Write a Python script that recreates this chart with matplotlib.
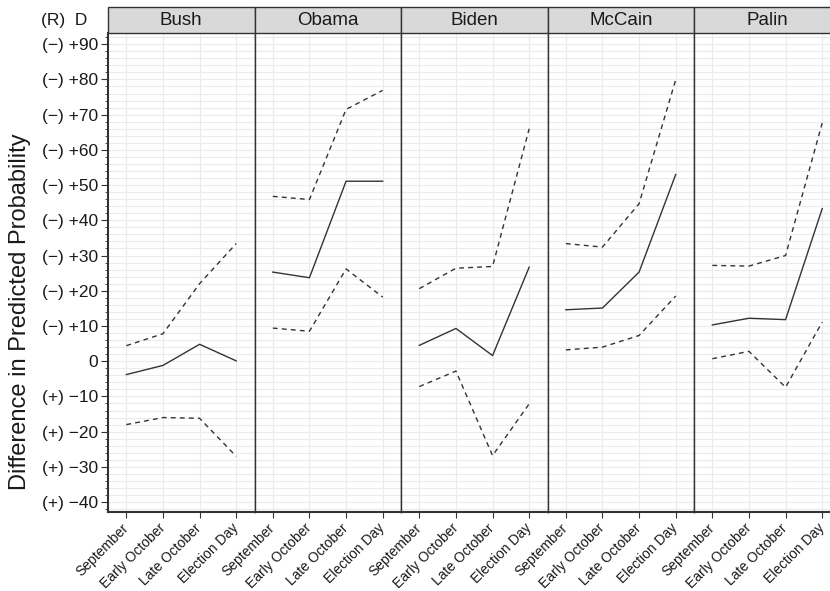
import numpy as np
import matplotlib.pyplot as plt
from matplotlib.patches import Rectangle

plt.rcParams['font.family'] = ['Liberation Sans', 'DejaVu Sans']

periods = ['September', 'Early October', 'Late October', 'Election Day']
figures = ['Bush', 'Obama', 'Biden', 'McCain', 'Palin']

# point estimates and 95% bounds, one row per figure
estimate = [
    [-3.8, -1.2, 4.8, 0.1],
    [25.3, 23.7, 51.1, 51.1],
    [4.5, 9.3, 1.6, 26.7],
    [14.6, 15.1, 25.3, 53.0],
    [10.3, 12.2, 11.8, 43.3],
]
upper = [
    [4.4, 7.8, 22.0, 33.4],
    [46.8, 45.9, 71.5, 76.9],
    [20.6, 26.4, 26.9, 66.0],
    [33.4, 32.4, 44.7, 79.9],
    [27.2, 27.0, 30.0, 67.6],
]
lower = [
    [-18.0, -16.0, -16.2, -27.0],
    [9.4, 8.5, 26.2, 18.2],
    [-7.2, -2.8, -26.8, -12.1],
    [3.2, 4.0, 7.3, 18.5],
    [0.7, 2.8, -7.4, 11.1],
]

y_major = np.arange(-40, 91, 10)


def fmt(v):
    if v > 0:
        return '(\u2212) +%d' % v
    if v < 0:
        return '(+) \u2212%d' % abs(v)
    return '0'


W, H = 830, 591
fig = plt.figure(figsize=(W / 100, H / 100), dpi=100)

left0, pw = 108, 146.5
top, bottom = 33.3, 512.3
strip_h = 26.0
dark = '#333333'
grid = '#ebebeb'

x = np.arange(1, len(periods) + 1)
for i, name in enumerate(figures):
    last = i == len(figures) - 1
    ax = fig.add_axes([(left0 + i * pw) / W, (H - bottom) / H,
                       pw / W, (bottom - top) / H])
    ax.set_xlim(0.5, 4.5)
    ax.set_ylim(-42.9, 93.1)
    for yv in np.arange(-42, 93, 2):
        ax.axhline(yv, color=grid, lw=0.8, zorder=0)
    for xv in x:
        ax.axvline(xv, color=grid, lw=0.8, zorder=0)

    ax.plot(x, estimate[i], color=dark, lw=1.0, zorder=3)
    ax.plot(x, upper[i], color=dark, lw=1.0, ls=(0, (3.5, 3)), zorder=3)
    ax.plot(x, lower[i], color=dark, lw=1.0, ls=(0, (3.5, 3)), zorder=3)

    ax.spines['top'].set_visible(False)
    ax.spines['right'].set_visible(not last)
    ax.spines['right'].set_color(dark)
    ax.spines['right'].set_linewidth(1.0)
    ax.spines['bottom'].set_color(dark)
    ax.spines['bottom'].set_linewidth(1.5)
    ax.spines['left'].set_color(dark)
    ax.spines['left'].set_linewidth(1.5 if i == 0 else 1.0)

    ax.set_xticks(x)
    ax.set_xticklabels(periods, rotation=45, ha='right', va='center',
                       rotation_mode='anchor', fontsize=10, color='#1a1a1a')
    ax.tick_params(axis='x', length=4, width=0.8, color=dark, pad=6)

    if i == 0:
        ax.set_yticks(y_major)
        ax.set_yticklabels([fmt(v) for v in y_major], fontsize=12.5,
                           color='#1a1a1a')
        ax.set_yticks(np.arange(-42, 93, 2), minor=True)
        ax.tick_params(axis='y', which='major', length=5, width=0.8,
                       color=dark, pad=2)
        ax.tick_params(axis='y', which='minor', length=2.5, width=0.6,
                       color=dark)
    else:
        ax.set_yticks([])
        ax.tick_params(axis='y', which='both', length=0)

    # facet strip
    sh = strip_h / (bottom - top)
    ax.add_patch(Rectangle((0, 1), 1, sh, transform=ax.transAxes,
                           facecolor='#d9d9d9', edgecolor=dark, lw=1.0,
                           clip_on=False, zorder=5))
    ax.text(0.5, 1 + sh / 2, name, transform=ax.transAxes, ha='center',
            va='center', fontsize=13.5, color='#1a1a1a', zorder=6)

fig.text(20 / W, 1 - 312 / H, 'Difference in Predicted Probability',
         rotation=90, fontsize=17, ha='center', va='center',
         color='#1a1a1a')
fig.text(41 / W, 1 - 20 / H, '(R)  D', fontsize=12.5, va='center',
         ha='left', color='#1a1a1a')

fig.savefig('out.png', dpi=100)
